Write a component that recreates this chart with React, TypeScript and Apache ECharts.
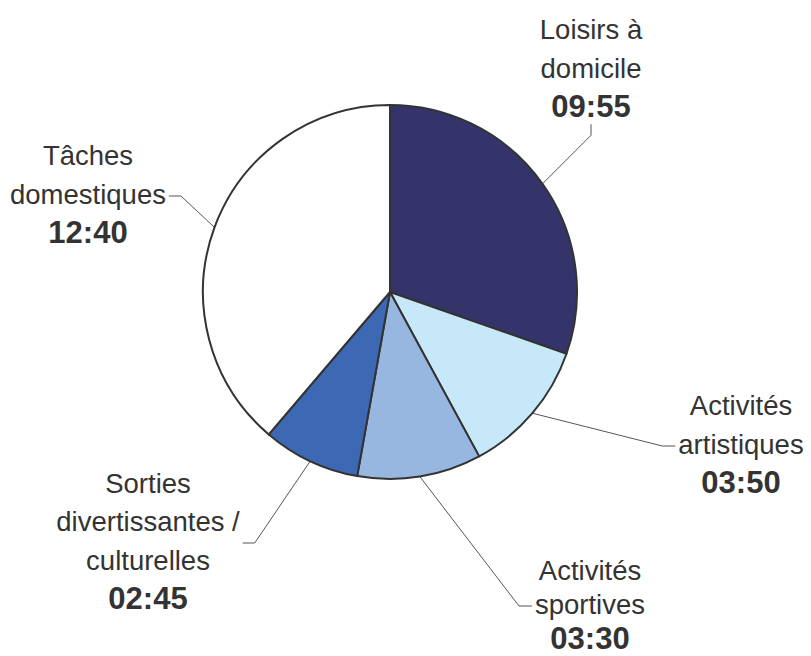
import React, { useEffect, useRef } from 'react';
import * as echarts from 'echarts';

const categories = [
  'Loisirs à domicile',
  'Activités artistiques',
  'Activités sportives',
  'Sorties divertissantes / culturelles',
  'Tâches domestiques',
];
const labelLines = [
  ['Loisirs à', 'domicile'],
  ['Activités', 'artistiques'],
  ['Activités', 'sportives'],
  ['Sorties', 'divertissantes /', 'culturelles'],
  ['Tâches', 'domestiques'],
];
// durations in minutes (hh:mm)
const minutes = [595, 230, 210, 165, 760];
const colors = ['#34346a', '#c6e8f8', '#97b7e0', '#3d68b3', '#ffffff'];

const placements = [
  { x: 591, y: 68, side: 'bottom', tight: false },
  { x: 741, y: 444, side: 'left', tight: false },
  { x: 590, y: 604, side: 'left', tight: true },
  { x: 148, y: 541, side: 'right', tight: false },
  { x: 88, y: 194, side: 'right', tight: false },
];

const FONT = "'Liberation Sans', Arial, Helvetica, sans-serif";

function fmt(m: number) {
  const h = Math.floor(m / 60);
  const mm = m % 60;
  return `${String(h).padStart(2, '0')}:${String(mm).padStart(2, '0')}`;
}

export default function App() {
  const ref = useRef<HTMLDivElement>(null);
  useEffect(() => {
    if (!ref.current) return;
    const chart = echarts.init(ref.current, undefined, { renderer: 'svg' });
    const nStyle = { fontSize: 27.5, color: '#333333', fontFamily: FONT, align: 'center' };
    const vStyle = { fontSize: 31, fontWeight: 'bold', color: '#333333', fontFamily: FONT, align: 'center' };
    chart.setOption({
      animation: false,
      backgroundColor: '#ffffff',
      series: [
        {
          type: 'pie',
          center: [390, 292],
          radius: 187,
          startAngle: 90,
          clockwise: true,
          avoidLabelOverlap: false,
          emphasis: { disabled: true },
          itemStyle: { borderColor: '#333333', borderWidth: 2 },
          label: {
            show: true,
            position: 'outside',
            color: '#333333',
            fontFamily: FONT,
            formatter: (p: any) => {
              const t = placements[p.dataIndex].tight;
              const n = t ? 'ns' : 'n';
              const v = t ? 'vs' : 'v';
              return `{${n}|${labelLines[p.dataIndex].join('\n')}}\n{${v}|${fmt(minutes[p.dataIndex])}}`;
            },
            rich: {
              n: { ...nStyle, lineHeight: 38.5 },
              v: { ...vStyle, lineHeight: 38.5 },
              ns: { ...nStyle, lineHeight: 34 },
              vs: { ...vStyle, lineHeight: 34 },
            },
          },
          labelLine: {
            show: true,
            length: 10,
            length2: 10,
            lineStyle: { color: '#555555', width: 1 },
          },
          labelLayout: (params: any) => {
            const p = placements[params.dataIndex];
            const w = params.labelRect.width;
            const h = params.labelRect.height;
            const anchor = params.labelLinePoints ? params.labelLinePoints[0] : [p.x, p.y];
            let end: number[];
            let elbow: number[];
            const gap = 3;
            if (p.side === 'bottom') {
              end = [p.x, p.y + h / 2 + gap];
              elbow = [p.x, end[1] + 11];
            } else if (p.side === 'right') {
              end = [p.x + w / 2 + gap, p.y + 2];
              elbow = [end[0] + 12, p.y + 2];
            } else {
              end = [p.x - w / 2 - gap, p.y + 2];
              elbow = [end[0] - 13, p.y + 2];
            }
            return {
              x: p.x,
              y: p.y,
              align: 'center',
              verticalAlign: 'middle',
              labelLinePoints: [anchor, elbow, end],
            };
          },
          data: categories.map((name, i) => ({
            name,
            value: minutes[i],
            itemStyle: { color: colors[i] },
          })),
        },
      ],
    });
    return () => chart.dispose();
  }, []);
  return (
    <div
      ref={ref}
      style={{ position: 'fixed', left: 0, top: 0, width: 811, height: 656 }}
    />
  );
}
